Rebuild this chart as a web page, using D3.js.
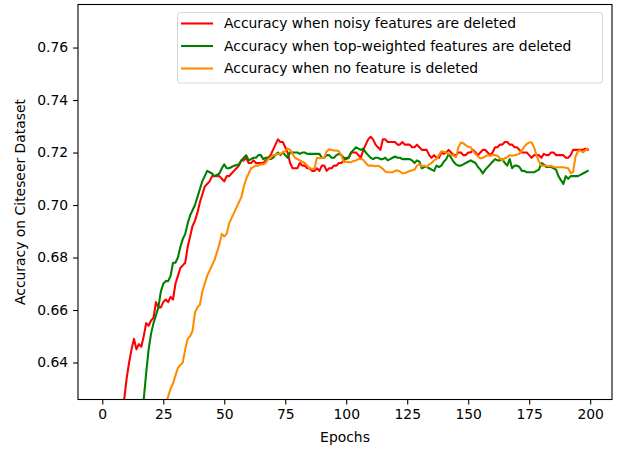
<!DOCTYPE html>
<html><head><meta charset="utf-8">
<script src="https://cdn.jsdelivr.net/npm/d3@7"></script>
<style>
body{margin:0;background:#fff;}
svg{display:block;font-family:"DejaVu Sans",sans-serif;}
</style></head>
<body><svg id="c" width="624" height="451"></svg>
<script>
const seriesNames = ["Accuracy when noisy features are deleted","Accuracy when top-weighted features are deleted","Accuracy when no feature is deleted"];
const seriesColors = ["#ff0000","#008000","#ff8c00"];
const xTicks = [0,25,50,75,100,125,150,175,200];
const yTicks = [0.64,0.66,0.68,0.70,0.72,0.74,0.76];
const noisy = [0.18,0.25,0.33,0.40,0.46,0.51,0.555,0.59,0.612,0.626,
0.634,0.640,0.645,0.649,0.645,0.647,0.646,0.650,0.655,0.654,
0.656,0.657,0.663,0.661,0.661,0.663,0.664,0.663,0.665,0.664,
0.670,0.673,0.676,0.677,0.678,0.684,0.688,0.692,0.694,0.697,
0.701,0.704,0.707,0.708,0.709,0.711,0.711,0.711,0.711,0.710,
0.709,0.711,0.711,0.712,0.713,0.714,0.715,0.717,0.717,0.718,
0.716,0.716,0.717,0.716,0.716,0.716,0.716,0.717,0.718,0.719,
0.721,0.723,0.725,0.724,0.724,0.722,0.720,0.716,0.714,0.714,
0.714,0.716,0.715,0.715,0.714,0.714,0.713,0.713,0.714,0.713,
0.715,0.715,0.713,0.714,0.714,0.715,0.715,0.716,0.716,0.717,
0.718,0.718,0.720,0.720,0.720,0.719,0.718,0.721,0.723,0.725,
0.726,0.725,0.723,0.722,0.721,0.725,0.725,0.724,0.724,0.724,
0.724,0.723,0.723,0.724,0.723,0.723,0.723,0.722,0.722,0.723,
0.722,0.721,0.721,0.721,0.719,0.718,0.719,0.718,0.718,0.720,
0.7195,0.720,0.721,0.720,0.719,0.719,0.720,0.720,0.719,0.719,
0.720,0.720,0.721,0.720,0.719,0.720,0.721,0.721,0.720,0.719,
0.720,0.722,0.722,0.723,0.723,0.724,0.724,0.723,0.723,0.722,
0.722,0.721,0.720,0.720,0.720,0.719,0.718,0.719,0.719,0.719,
0.718,0.7195,0.719,0.719,0.720,0.720,0.719,0.719,0.719,0.719,
0.718,0.718,0.719,0.721,0.721,0.721,0.721,0.721,0.7215,0.721];
const topWeighted = [0.14,0.19,0.24,0.29,0.34,0.39,0.43,0.47,0.50,0.53,
0.555,0.575,0.59,0.60,0.608,0.614,0.619,0.626,0.636,0.645,
0.651,0.655,0.658,0.661,0.667,0.670,0.671,0.671,0.673,0.678,
0.678,0.680,0.684,0.687,0.689,0.693,0.696,0.698,0.700,0.703,
0.706,0.709,0.711,0.713,0.7125,0.712,0.711,0.7115,0.712,0.714,
0.7155,0.714,0.714,0.7145,0.715,0.7152,0.7155,0.717,0.718,0.719,
0.717,0.7175,0.718,0.718,0.719,0.719,0.7175,0.718,0.718,0.7175,
0.718,0.719,0.720,0.719,0.720,0.719,0.718,0.720,0.720,0.720,
0.720,0.7195,0.720,0.720,0.7195,0.7195,0.7195,0.7195,0.7195,0.7195,
0.718,0.718,0.719,0.719,0.718,0.718,0.719,0.7195,0.719,0.718,
0.7175,0.718,0.720,0.721,0.722,0.7215,0.721,0.7215,0.720,0.719,
0.718,0.7175,0.718,0.718,0.7175,0.7175,0.718,0.717,0.7175,0.718,
0.7185,0.718,0.718,0.7175,0.7175,0.7175,0.7175,0.717,0.716,0.717,
0.7165,0.714,0.7145,0.7145,0.714,0.7135,0.713,0.715,0.7145,0.715,
0.7165,0.7175,0.7195,0.718,0.7165,0.7155,0.715,0.715,0.7155,0.716,
0.7165,0.717,0.7165,0.716,0.7145,0.7135,0.712,0.7135,0.7145,0.7155,
0.7165,0.7175,0.717,0.717,0.7175,0.716,0.715,0.7175,0.714,0.715,
0.715,0.7145,0.713,0.713,0.7125,0.7125,0.7125,0.7125,0.713,0.7135,
0.716,0.7155,0.7145,0.7145,0.7145,0.714,0.7135,0.711,0.7095,0.708,
0.711,0.710,0.711,0.711,0.711,0.711,0.7115,0.712,0.7125,0.713];
const noneDeleted = [0.12,0.16,0.20,0.24,0.28,0.32,0.36,0.39,0.42,0.45,
0.475,0.50,0.52,0.54,0.555,0.57,0.58,0.59,0.597,0.603,
0.608,0.612,0.615,0.618,0.620,0.622,0.624,0.627,0.630,0.632,
0.635,0.638,0.639,0.640,0.645,0.649,0.650,0.652,0.659,0.661,
0.662,0.667,0.670,0.673,0.675,0.677,0.679,0.682,0.685,0.689,
0.688,0.689,0.693,0.695,0.697,0.699,0.701,0.703,0.707,0.710,
0.712,0.714,0.7145,0.715,0.715,0.7155,0.7155,0.716,0.7175,0.718,
0.719,0.719,0.7195,0.7195,0.720,0.7205,0.7215,0.721,0.7195,0.718,
0.7175,0.717,0.7165,0.716,0.715,0.714,0.7138,0.7138,0.718,0.7178,
0.718,0.718,0.7205,0.7212,0.721,0.7208,0.7208,0.7205,0.719,0.7163,
0.7165,0.7163,0.7163,0.7168,0.717,0.7175,0.7176,0.7172,0.716,0.715,
0.715,0.715,0.7148,0.715,0.7145,0.7138,0.7128,0.7125,0.7125,0.7125,
0.713,0.7132,0.7128,0.712,0.7122,0.7125,0.713,0.7132,0.7135,0.715,
0.7155,0.7148,0.715,0.7145,0.7155,0.716,0.717,0.7175,0.719,0.7205,
0.7203,0.720,0.7195,0.7192,0.7188,0.7182,0.722,0.7238,0.7235,0.7228,
0.7222,0.722,0.7205,0.7195,0.7185,0.7178,0.718,0.7185,0.719,0.7188,
0.719,0.719,0.7188,0.7178,0.717,0.7178,0.7182,0.719,0.7188,0.719,
0.7192,0.7195,0.7208,0.7222,0.7233,0.7238,0.7238,0.722,0.719,0.7165,
0.715,0.715,0.715,0.7148,0.715,0.7145,0.7144,0.7144,0.7144,0.7144,
0.7142,0.714,0.7122,0.7125,0.7185,0.7205,0.7208,0.720,0.7208,0.7215];
const allSeries = [noisy, topWeighted, noneDeleted];

const L = 78, R = 612, T = 4.5, B = 399.5;
const svg = d3.select("#c");
const x = d3.scaleLinear().domain([-9.95, 208.95]).range([L, R]);
const y = d3.scaleLinear().domain([0.6259, 0.7764]).range([B, T]);

svg.append("defs").append("clipPath").attr("id","clip")
  .append("rect").attr("x",L).attr("y",T).attr("width",R-L).attr("height",B-T);

const line = d3.line().x((d,i)=>x(i)).y(d=>y(d));
const g = svg.append("g").attr("clip-path","url(#clip)");
allSeries.forEach((s,k)=>{
  g.append("path").datum(s).attr("d",line).attr("fill","none")
    .attr("stroke",seriesColors[k]).attr("stroke-width",1.5*1.389)
    .attr("stroke-linejoin","round").attr("stroke-linecap","square");
});

// frame
svg.append("rect").attr("x",L).attr("y",T).attr("width",R-L).attr("height",B-T)
  .attr("fill","none").attr("stroke","#000").attr("stroke-width",1.1);

const xa = svg.append("g").attr("transform",`translate(0,${B})`)
  .call(d3.axisBottom(x).tickValues(xTicks).tickSize(4.9).tickPadding(4.9).tickFormat(d3.format("d")));
const ya = svg.append("g").attr("transform",`translate(${L},0)`)
  .call(d3.axisLeft(y).tickValues(yTicks).tickSize(4.9).tickPadding(4.9).tickFormat(d3.format(".2f")));
[xa,ya].forEach(a=>{
  a.select(".domain").remove();
  a.selectAll(".tick line").attr("stroke","#000").attr("stroke-width",1.1);
  a.selectAll(".tick text").attr("font-size","13.9px").attr("fill","#000").attr("font-family","DejaVu Sans");
});

svg.append("text").attr("x",(L+R)/2).attr("y",442).attr("text-anchor","middle")
  .attr("font-size","13.9px").attr("font-family","DejaVu Sans").text("Epochs");
svg.append("text").attr("transform",`translate(25,${(T+B)/2}) rotate(-90)`).attr("text-anchor","middle")
  .attr("font-size","13.9px").attr("font-family","DejaVu Sans").text("Accuracy on Citeseer Dataset");

// legend
const lg = svg.append("g");
lg.append("rect").attr("x",177.5).attr("y",12.5).attr("width",425).attr("height",70.5)
  .attr("rx",3).attr("fill","#fff").attr("fill-opacity",0.8).attr("stroke","#d6d6d6").attr("stroke-width",1);
seriesNames.forEach((n,k)=>{
  const yy = 23.5 + k*22.5;
  lg.append("line").attr("x1",181).attr("x2",213).attr("y1",yy).attr("y2",yy)
    .attr("stroke",seriesColors[k]).attr("stroke-width",2.08);
  lg.append("text").attr("x",224).attr("y",yy).attr("dy","0.35em")
    .attr("font-size","13.9px").attr("font-family","DejaVu Sans").text(n);
});
</script></body></html>
